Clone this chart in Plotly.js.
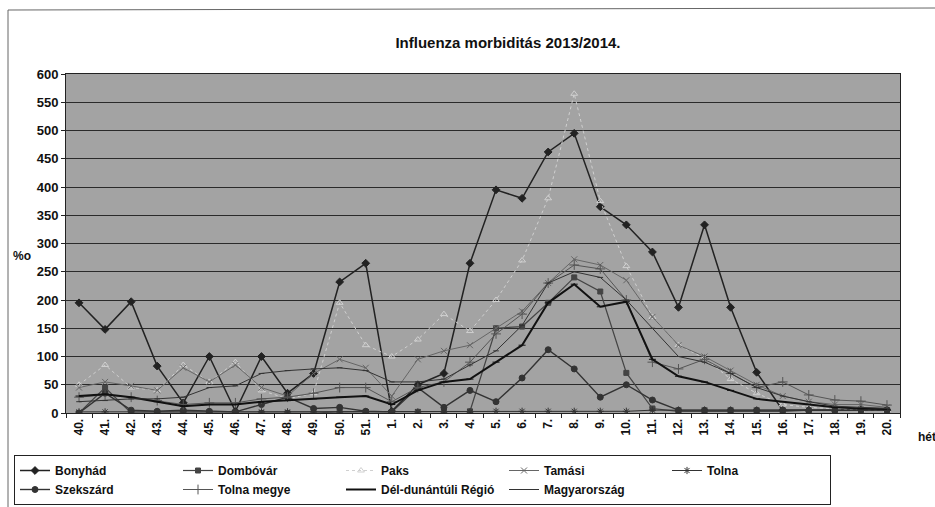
<!DOCTYPE html>
<html>
<head>
<meta charset="utf-8">
<script src="https://cdn.plot.ly/plotly-3.0.1.min.js"></script>
<style>
html,body{margin:0;padding:0;background:#fff;}
#chart{width:935px;height:507px;}
</style>
</head>
<body>
<div id="chart"></div>
<script>
const weeks = ['40.','41.','42.','43.','44.','45.','46.','47.','48.','49.','50.','51.',
  '1.','2.','3.','4.','5.','6.','7.','8.','9.','10.','11.','12.','13.','14.','15.','16.','17.','18.','19.','20.'];

const bonyhad   = [195,148,197,83,18,100,3,100,35,70,232,265,3,50,70,265,395,380,462,495,365,333,285,187,333,187,72,5,5,5,5,5];
const dombovar  = [0,45,0,0,0,0,0,0,0,0,2,2,2,2,2,3,150,153,195,240,215,71,8,3,3,3,3,3,5,5,5,5];
const paks      = [50,85,45,40,85,55,90,40,25,35,195,120,100,130,175,145,200,270,380,565,375,260,170,120,97,60,35,15,10,8,5,5];
const tamasi    = [45,55,48,40,80,55,85,45,30,70,95,80,30,95,110,120,150,180,230,272,262,235,170,120,100,75,50,30,20,15,15,10];
const tolna     = [2,2,2,2,2,2,2,2,2,2,2,2,2,2,2,2,3,3,3,3,3,3,5,5,5,5,5,5,5,5,5,5];
const szekszard = [0,35,5,3,5,3,2,15,28,8,10,3,2,45,10,40,20,62,112,78,28,50,23,5,5,5,5,5,5,5,5,5];
const tolnaMegye= [28,32,28,22,15,18,18,25,28,35,45,45,20,45,55,90,140,175,230,262,255,200,90,78,95,70,45,55,32,23,21,14];
const delDunantul=[30,33,28,20,12,15,15,20,22,25,28,30,15,40,55,60,90,120,195,228,188,197,95,65,55,40,25,20,15,10,8,7];
const magyarorszag=[20,22,25,25,28,45,48,70,75,78,80,75,55,55,60,85,110,155,230,250,240,200,150,100,90,70,45,30,20,12,10,8];

const FONT = 'Liberation Sans, Arial, sans-serif';

function tr(name, y, color, width, symbol, msize, dash, mcolor){
  return {type:'scatter', mode:'lines+markers', name:name, x:weeks, y:y,
    line:{color:color, width:width, dash:dash||'solid'},
    marker:{symbol:symbol, size:msize, color:mcolor||color, line:{color:mcolor||color, width:1}}};
}

const data = [
  tr('Bonyhád', bonyhad, '#222', 1.5, 'diamond', 6),
  tr('Dombóvár', dombovar, '#444', 1.2, 'square', 5),
  tr('Paks', paks, '#d0d0d0', 1, 'triangle-up-open', 6, 'dot'),
  tr('Tamási', tamasi, '#666', 1, 'x-thin-open', 6),
  tr('Tolna', tolna, '#333', 1, 'asterisk-open', 6),
  tr('Szekszárd', szekszard, '#333', 1.4, 'circle', 6),
  tr('Tolna megye', tolnaMegye, '#555', 1, 'cross-thin-open', 7),
  tr('Dél-dunántúli Régió', delDunantul, '#111', 2, 'line-ew-open', 5),
  tr('Magyarország', magyarorszag, '#333', 1, 'line-ew-open', 4)
];

const PW = 834, PH = 339, L = 66, T = 74;
function px(x){ return (x - L)/PW; }
function py(y){ return (T + PH - y)/PH; }

const layout = {
  width:935, height:507,
  margin:{l:L, r:35, t:T, b:94},
  paper_bgcolor:'#fff',
  plot_bgcolor:'#a3a3a3',
  font:{family:FONT, color:'#111', size:11},
  title:{text:'Influenza morbiditás 2013/2014.', font:{family:FONT, size:15, weight:'bold', color:'#111'},
    x:508/935, xanchor:'center', xref:'container', y:1-43/507, yref:'container', yanchor:'middle'},
  showlegend:true,
  legend:{orientation:'h', xref:'container', yref:'container', x:14/935, xanchor:'left', y:1-455/507, yanchor:'top',
    bordercolor:'#222', borderwidth:1, bgcolor:'#fff',
    font:{family:FONT, size:12, weight:'bold', color:'#111'},
    entrywidth:118, entrywidthmode:'pixels', tracegroupgap:0, itemwidth:30},
  xaxis:{type:'category', range:[-0.5, weeks.length-0.5], autorange:false,
    showgrid:false, showline:true, linecolor:'#222', linewidth:1, mirror:true,
    ticks:'outside', tickson:'boundaries', ticklen:4, tickcolor:'#222', tickangle:-90,
    tickfont:{family:FONT, size:12, weight:'bold', color:'#111'}, zeroline:false, fixedrange:true},
  yaxis:{range:[0,600], dtick:50, showgrid:true, gridcolor:'#2a2a2a', gridwidth:1,
    showline:true, linecolor:'#222', linewidth:1, mirror:true,
    ticks:'outside', ticklen:4, tickcolor:'#222', zeroline:false,
    tickfont:{family:FONT, size:13, weight:'bold', color:'#111'}, fixedrange:true},
  annotations:[
    {text:'%o', xref:'paper', yref:'paper', x:px(22), y:py(256), xanchor:'center', yanchor:'middle',
     showarrow:false, font:{family:FONT, size:12, weight:'bold', color:'#111'}},
    {text:'hét', xref:'paper', yref:'paper', x:px(916), y:py(437), xanchor:'left', yanchor:'middle',
     showarrow:false, font:{family:FONT, size:12, weight:'bold', color:'#111'}}
  ],
  shapes:[
    {type:'line', xref:'paper', yref:'paper', x0:px(8), x1:px(8), y0:py(507), y1:py(10),
     line:{color:'#666', width:1}},
    {type:'line', xref:'paper', yref:'paper', x0:px(8), x1:px(935), y0:py(10), y1:py(8),
     line:{color:'#666', width:1}}
  ]
};

Plotly.newPlot('chart', data, layout, {displayModeBar:false, staticPlot:true});
</script>
</body>
</html>
